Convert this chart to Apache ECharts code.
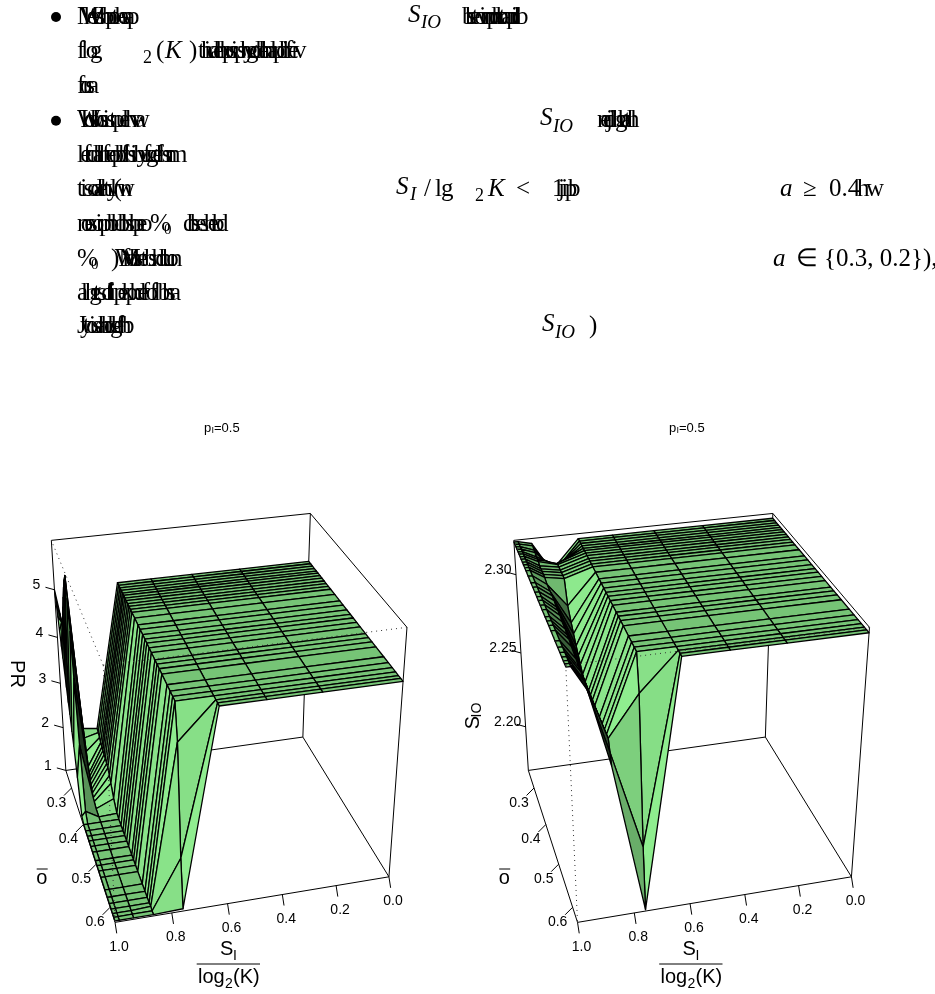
<!DOCTYPE html>
<html><head><meta charset="utf-8">
<script src="https://cdn.jsdelivr.net/npm/echarts@6/dist/echarts.min.js"></script>
<style>html,body{margin:0;padding:0;background:#fff}#c{width:935px;height:994px}</style>
</head><body><div id="c"></div>
<script>
// ---------- data ----------
const xValues = [0, 0.28, 0.47, 0.63, 0.76, 0.865, 0.935, 0.985, 1];
const oValues = [0.249,0.258,0.267,0.276,0.285,0.293,0.302,0.311,0.321,0.33,0.34,0.35,0.368,0.39,0.404,0.42,0.434,0.446,0.46,0.474,0.495,0.507,0.52,0.535,0.564,0.581,0.595,0.607,0.617,0.625,0.633];
const xTicks = [0, 0.2, 0.4, 0.6, 0.8, 1];
const oTicks = [0.3, 0.4, 0.5, 0.6];
const prTicks = [1, 2, 3, 4, 5];
const sioTicks = [2.2, 2.25, 2.3];
const prRange = [1, 6];
const sioRange = [2.169, 2.321];

const prPlateau = [5,5,5,5,5,5,5,5,5,5,5,5,5,5,5,5,5,5,5,5,5,5,5,5,5,5,5,5,5,5,5];
const prX076 = [5,5,5,5,5,5,5,5,5,5,5,5,5,5,5,5,5,5,5,5,5,5,5,5,5,5,5,5,4.3,2.05,1.05];
const prX0865 = [1.88,1.85,1.8,1.75,1.72,1.7,1.68,1.65,1.62,1.6,1.5,1.4,1.2,1.05,1.03,1.03,1.03,1.03,1.03,1.03,1.03,1.03,1.03,1.03,1.03,1.03,1.03,1.03,1.05,1.03,1.03];
const prX0935 = [1.93,1.75,1.45,1.1,1.03,1.03,1.03,1.03,1.03,1.03,1.03,1.03,1.03,1.03,1.03,1.03,1.03,1.03,1.03,1.03,1.03,1.03,1.03,1.03,1.03,1.03,1.03,1.03,1.03,1.03,1.03];
const prX0985 = [4.5,4.4,4.4,4.6,4.85,5.1,5.35,5.55,5.7,5.3,4.7,3.8,2.5,1.2,1.03,1.03,1.03,1.03,1.03,1.03,1.03,1.03,1.03,1.03,1.03,1.03,1.03,1.03,1.03,1.03,1.03];
const prX1 = [5,4.8,4.55,4.3,4.05,3.85,3.6,3.35,3.1,2.9,2.6,2.35,1.8,1.1,1.03,1.03,1.03,1.03,1.03,1.03,1.03,1.03,1.03,1.03,1.03,1.03,1.03,1.03,1.03,1.03,1.03];
const prColumns = [prPlateau, prPlateau, prPlateau, prPlateau, prX076, prX0865, prX0935, prX0985, prX1];

const sioPlateau = [2.318,2.318,2.318,2.318,2.318,2.318,2.318,2.318,2.318,2.318,2.318,2.318,2.318,2.318,2.318,2.318,2.318,2.318,2.318,2.318,2.318,2.318,2.318,2.318,2.318,2.318,2.318,2.318,2.318,2.318,2.318];
const sioX076 = [2.318,2.318,2.318,2.318,2.318,2.318,2.318,2.318,2.318,2.318,2.318,2.318,2.318,2.318,2.318,2.318,2.318,2.318,2.318,2.318,2.318,2.318,2.318,2.318,2.318,2.318,2.318,2.318,2.297,2.208,2.17];
const sioX0865 = [2.3,2.3,2.303,2.306,2.31,2.312,2.313,2.313,2.313,2.313,2.313,2.313,2.3,2.294,2.29,2.286,2.283,2.28,2.277,2.275,2.274,2.274,2.274,2.274,2.274,2.274,2.274,2.274,2.274,2.268,2.262];
const sioX0935 = [2.318,2.318,2.317,2.317,2.316,2.316,2.316,2.315,2.315,2.315,2.315,2.315,2.314,2.314,2.314,2.314,2.313,2.313,2.313,2.312,2.312,2.311,2.311,2.31,2.309,2.308,2.308,2.307,2.307,2.306,2.306];
const sioX1 = [2.32,2.32,2.32,2.32,2.32,2.32,2.32,2.32,2.32,2.32,2.32,2.32,2.32,2.32,2.32,2.32,2.32,2.32,2.32,2.32,2.32,2.32,2.32,2.32,2.32,2.32,2.32,2.32,2.32,2.32,2.32];
const sioColumns = [sioPlateau, sioPlateau, sioPlateau, sioPlateau, sioX076, sioX0865, sioX0935, sioX1, sioX1];

// ---------- the smeared text block: [string, x from, x to, line] ----------
const smearRuns = [
  ['MWleveshbpothesap',77,127,0],['blsetovinmpdhxotaupnilb',462,516,0],
  ['flog',77,90,1],['thidaeblprsipshygodlehnalpdhifeiv',198,294,1],
  ['forsa',77,88,2],
  ['WIdwshosistpuelhvwa',77,135,3],['nedjihgbathl',597,630,3],
  ['lefdnalhfeopblfhsibyufgdefhsnm',77,168,4],
  ['tisodaehtyl(wn',77,120,5],['lg',435,441,5],['jipb',558,568,5],['hw',857,866,5],
  ['noesoipnbldbhsbpeo',77,140,6],['dbseshebd',183,216,6],
  [')WMfobsetbshdhuon',111,170,7],
  ['alhgtsdfipekphdefoflbhsa',77,170,8],
  ['Jytoisahbdlgefhb',77,122,9]
];
const lineY = [17,51.7,86,120.7,155,189.3,224,259.3,293.3,326.7];
// [text, x, line, italic, size, dy]
const mathRuns = [
  ['S',408,0,1,25,-2],['IO',421,0,1,19,6],
  ['2',143,1,0,18,7],['(',156,1,0,25,0],['K',165,1,1,25,0],[')',189,1,0,25,0],
  ['S',540,3,1,25,-2],['IO',553,3,1,19,6],
  ['S',396,5,1,25,-2],['I',410,5,1,19,6],['/',424,5,0,25,0],['2',475,5,0,18,7],['K',488,5,1,25,0],['<',516,5,0,25,0],['1',552,5,0,25,0],
  ['a',780,5,1,25,0],['≥',803,5,0,25,0],['0.4',829,5,0,25,0],
  ['%',150,6,0,25,0],['0',164,6,0,15,6],
  ['%',77,7,0,25,0],['0',91,7,0,15,6],
  ['a',773,7,1,25,0],['∈',796,7,0,25,0],['{0.3, 0.2}),',824,7,0,25,0],
  ['S',542,9,1,25,-2],['IO',555,9,1,19,6],[')',589,9,0,25,0]
];

// ---------- panel placement in the page ----------
const boxCorners = [
  // u v w  px py
  [1,0,1,51,540.7],[0,0,1,310.7,513.3],[0,1,1,406.7,627.3],[1,1,1,103.5,665],
  [1,0,0,66,770],[0,0,0,302.7,737.3],[0,1,0,389,876.7],[1,1,0,115,922.7]
];
const panelShift = 462.5;
const SANS = '"Liberation Sans",Arial,sans-serif';
const SERIF = '"Liberation Serif",serif';

function solve(A, b) {
  const n = b.length, M = A.map((r, i) => r.concat(b[i]));
  for (let c = 0; c < n; c++) {
    let p = c;
    for (let r = c + 1; r < n; r++) if (Math.abs(M[r][c]) > Math.abs(M[p][c])) p = r;
    [M[c], M[p]] = [M[p], M[c]];
    for (let r = 0; r < n; r++) {
      if (r === c) continue;
      const f = M[r][c] / M[c][c];
      for (let k = c; k <= n; k++) M[r][k] -= f * M[c][k];
    }
  }
  return M.map((r, i) => r[n] / r[i]);
}
function fitCamera(corners, dx) {
  const rows = [], rhs = [];
  corners.forEach(([u, v, w, px0, py]) => {
    const px = px0 + dx;
    rows.push([u,v,w,1,0,0,0,0,-px*u,-px*v,-px*w]); rhs.push(px);
    rows.push([0,0,0,0,u,v,w,1,-py*u,-py*v,-py*w]); rhs.push(py);
  });
  const N = 11, ATA = [], ATb = [];
  for (let i = 0; i < N; i++) {
    ATA.push([]); let s = 0;
    for (let j = 0; j < N; j++) { let t = 0; rows.forEach(r => t += r[i]*r[j]); ATA[i].push(t); }
    rows.forEach((r, k) => s += r[i]*rhs[k]); ATb.push(s);
  }
  const p = solve(ATA, ATb);
  return (u, v, w) => {
    const d = 1 + p[8]*u + p[9]*v + p[10]*w;
    return [(p[0]*u+p[1]*v+p[2]*w+p[3])/d, (p[4]*u+p[5]*v+p[6]*w+p[7])/d];
  };
}

const LIGHT = [0.78, 0.55, 0.35], BASE = [144, 238, 144];
function shade(a, b, c, d) {
  const e = [c[0]-a[0], c[1]-a[1], c[2]-a[2]], f = [d[0]-b[0], d[1]-b[1], d[2]-b[2]];
  let n = [e[1]*f[2]-e[2]*f[1], e[2]*f[0]-e[0]*f[2], e[0]*f[1]-e[1]*f[0]];
  if (n[2] < 0) n = n.map(q => -q);
  const l = Math.hypot(n[0], n[1], n[2]) || 1;
  const dot = (n[0]*LIGHT[0] + n[1]*LIGHT[1] + n[2]*LIGHT[2]) / l;
  let s = Math.pow(Math.max(0, Math.min(1, (1 + dot) / 2)), 0.5);
  if (dot < -0.3) s *= Math.max(0, (dot + 0.7) / 0.4);   // faces turned from the light go black
  return 'rgb(' + BASE.map(q => Math.round(q * s)).join(',') + ')';
}

function txt(text, x, y, size, opt) {
  opt = opt || {};
  return {type:'text', x, y, rotation: opt.rot || 0,
    style:{text, x:0, y:0, fill:'#000', font:(opt.italic?'italic ':'') + size + 'px ' + (opt.fam || SANS),
      align: opt.align || 'center', verticalAlign:'middle'}};
}
function seg(p, q, dash) {
  return {type:'line', shape:{x1:p[0],y1:p[1],x2:q[0],y2:q[1]},
    style:{stroke: dash ? '#333' : '#000', lineWidth: 1, lineDash: dash ? [1,4] : null, fill:null}};
}
function customLayer(items, z) {
  return {type:'custom', coordinateSystem:'none', silent:true, animation:false, z, clip:false,
    data: items.map((_, i) => i), progressive:0,
    renderItem:(params) => items[params.dataIndex]};
}

function panel(columns, zRange, zTicks, zFmt, dx, titleX, ztitle) {
  const cam = fitCamera(boxCorners, dx);
  const oMin = oValues[0], oMax = oValues[oValues.length-1];
  const U = x => x, V = o => (o-oMin)/(oMax-oMin), W = z => (z-zRange[0])/(zRange[1]-zRange[0]);
  const back = [], surf = [], front = [];
  const P = (u,v,w) => cam(u,v,w);
  [[[1,0,1],[0,0,1]],[[0,0,1],[0,1,1]],[[0,1,1],[0,1,0]],[[0,0,1],[0,0,0]],[[1,0,1],[1,0,0]],
   [[1,0,0],[0,0,0]],[[0,0,0],[0,1,0]],[[1,0,0],[1,1,0]],[[1,1,0],[0,1,0]]]
    .forEach(([a,b]) => back.push(seg(P(...a),P(...b))));
  xTicks.forEach(t => {
    const p = P(U(t),1,0);
    back.push(seg(p,[p[0]+1.7,p[1]+11]));
    back.push(txt(t.toFixed(1),p[0]+4,p[1]+24.3,14));
  });
  oTicks.forEach(t => {
    const p = P(1,V(t),0);
    back.push(seg(p,[p[0]-7.5,p[1]+7.5]));
    back.push(txt(t.toFixed(1),p[0]-15,p[1]+15,14));
  });
  zTicks.forEach(t => {
    const p = P(1,0,W(t));
    back.push(seg(p,[p[0]-9,p[1]-2.5]));
    back.push(txt(zFmt(t),p[0]-18,p[1]-4.5,14));
  });
  for (let j = 0; j < oValues.length-1; j++) {
    for (let i = 0; i < xValues.length-1; i++) {
      const a=[U(xValues[i]),V(oValues[j]),W(columns[i][j])], b=[U(xValues[i+1]),V(oValues[j]),W(columns[i+1][j])],
            c=[U(xValues[i+1]),V(oValues[j+1]),W(columns[i+1][j+1])], d=[U(xValues[i]),V(oValues[j+1]),W(columns[i][j+1])];
      surf.push({type:'polygon', shape:{points:[P(...a),P(...b),P(...c),P(...d)]},
        style:{fill:shade(a,b,c,d), stroke:'#000', lineWidth:1.3, lineJoin:'round'}});
    }
  }
  [[[1,1,1],[1,0,1]],[[1,1,1],[0,1,1]],[[1,1,1],[1,1,0]]].forEach(([a,b]) => front.push(seg(P(...a),P(...b),true)));
  const ttl = [];
  ttl.push(txt('p',titleX,428,13,{align:'left'}),txt('I',titleX+7.5,431,9,{align:'left'}),txt('=0.5',titleX+10,428,13,{align:'left'}));
  ttl.push(txt('S',226.7+dx,949,20),txt('I',235+dx,956,14));
  ttl.push({type:'line',shape:{x1:196.7+dx,y1:964,x2:260+dx,y2:964},style:{stroke:'#000',lineWidth:1}});
  ttl.push(txt('log',198+dx,977,20,{align:'left'}),txt('2',225+dx,984,14,{align:'left'}),txt('(K)',233+dx,977,20,{align:'left'}));
  ttl.push(txt('o',41.7+dx,878,20));
  ttl.push({type:'line',shape:{x1:36.7+dx,y1:869,x2:47.7+dx,y2:869},style:{stroke:'#000',lineWidth:1}});
  ztitle(ttl);
  return [customLayer(back,2),customLayer(surf,3),customLayer(front,4),customLayer(ttl,5)];
}

const head = [];
[0,3].forEach(k => head.push({type:'circle',shape:{cx:56,cy:lineY[k],r:5},style:{fill:'#000'}}));
smearRuns.forEach(([s,x0,x1,ln]) => {
  const n = s.length;
  [...s].forEach((ch,i) => head.push(txt(ch,x0+(x1-x0)*i/Math.max(1,n-1),lineY[ln],25,{align:'left',fam:SERIF})));
});
mathRuns.forEach(([s,x,ln,it,size,dy]) => head.push(txt(s,x,lineY[ln]+dy,size,{align:'left',fam:SERIF,italic:!!it})));

const series = [customLayer(head,1)]
  .concat(panel(prColumns,prRange,prTicks,t=>String(t),0,204,(a)=>{
    a.push(txt('PR',16.7,674,20,{rot:-Math.PI/2}));
  }))
  .concat(panel(sioColumns,sioRange,sioTicks,t=>t.toFixed(2),panelShift,669,(a)=>{
    a.push(txt('S',473.3,722.7,20,{rot:Math.PI/2}),txt('IO',477.5,710,14,{rot:Math.PI/2}));
  }));

const chart = echarts.init(document.getElementById('c'),null,{renderer:'canvas'});
chart.setOption({animation:false,backgroundColor:'#fff',series});
</script></body></html>
